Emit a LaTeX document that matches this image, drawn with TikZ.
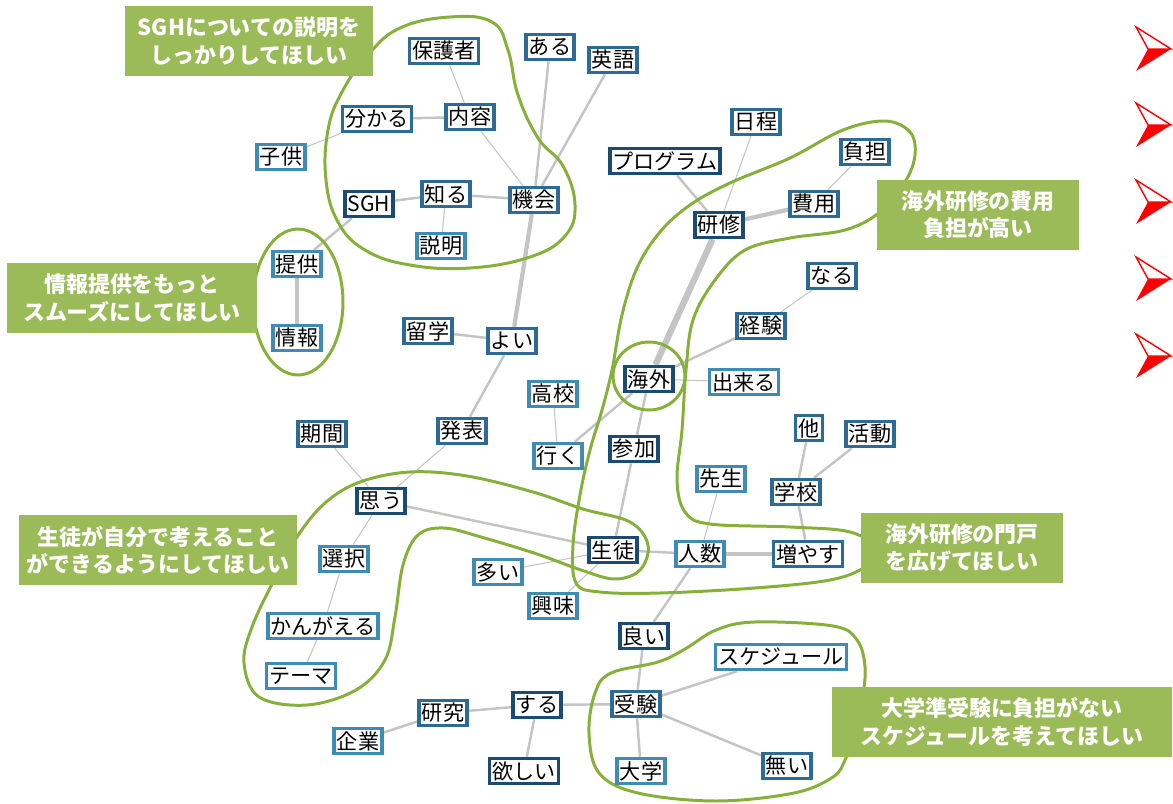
\documentclass[tikz,border=0pt]{standalone}
\usepackage{fontspec}
\newfontfamily\jpfont{Noto Sans CJK JP}
\usetikzlibrary{backgrounds}
\definecolor{darkblue}{HTML}{1B4A72}
\definecolor{midblue}{HTML}{2D6A96}
\definecolor{lightblue}{HTML}{3F8BB5}
\definecolor{linkgray}{HTML}{C4C4C4}
\definecolor{blobgreen}{HTML}{86B03A}
\definecolor{notegreen}{HTML}{9BBB59}
\tikzset{
  word/.style={draw=midblue, fill=white, line width=2pt, inner xsep=1.6pt, inner ysep=1pt,
    minimum height=0.5cm, font=\jpfont\fontsize{12}{13}\selectfont},
  darkword/.style={word, draw=darkblue},
  lightword/.style={word, draw=lightblue},
  link/.style={draw=linkgray, line width=0.6pt},
  linkmid/.style={draw=linkgray, line width=1.4pt},
  linkbold/.style={draw=linkgray, line width=2.4pt},
  linkheavy/.style={draw=linkgray, line width=3.6pt},
  blob/.style={draw=blobgreen, line width=1.7pt},
  note/.style={fill=notegreen, text=white, align=center, inner sep=0pt, minimum height=1.4cm,
    font=\jpfont\bfseries\fontsize{12.5}{15.5}\selectfont}
}
\begin{document}
\begin{tikzpicture}[x=0.02cm, y=-0.02cm]
  \useasboundingbox (0,0) rectangle (1173,804);%

  % Words of the upper left group
  \node[word] (hogosha) at (444,51) {保護者};%
  \node[word] (aru) at (550,47) {ある};%
  \node[word] (eigo) at (613,60) {英語};%
  \node[word] (wakaru) at (377,119) {分かる};%
  \node[word] (naiyou) at (470,117) {内容};%
  \node[lightword] (kodomo) at (281,157) {子供};%
  \node[darkword] (sgh) at (369,204) {SGH};%
  \node[word] (shiru) at (446,194) {知る};%
  \node[word] (kikai) at (534,200) {機会};%
  \node[lightword] (setsumei) at (441,246) {説明};%
  \node[lightword] (teikyou) at (297,264) {提供};%
  \node[lightword] (jouhou) at (297,338) {情報};%
  \node[word] (ryuugaku) at (428,331) {留学};%
  \node[word] (yoi) at (512,341) {よい};%

  % Words round kaigai and kenshu
  \node[word] (nittei) at (756,122) {日程};%
  \node[darkword] (program) at (665,161) {プログラム};%
  \node[darkword] (kenshu) at (719,225) {研修};%
  \node[word] (futan) at (865,152) {負担};%
  \node[word] (hiyou) at (814,204) {費用};%
  \node[word] (naru) at (832,276) {なる};%
  \node[word] (keiken) at (761,326) {経験};%
  \node[darkword] (kaigai) at (649,379) {海外};%
  \node[lightword] (dekiru) at (744,382) {出来る};%
  \node[lightword] (koukou) at (553,394) {高校};%
  \node[lightword] (iku) at (558,456) {行く};%
  \node[word] (happyou) at (462,431) {発表};%
  \node[darkword] (sanka) at (634,449) {参加};%
  \node[word] (hoka) at (809,428) {他};%
  \node[word] (katsudou) at (870,434) {活動};%
  \node[lightword] (sensei) at (721,479) {先生};%
  \node[word] (gakkou) at (796,492) {学校};%
  \node[word] (kikan) at (322,434) {期間};%
  \node[darkword] (omou) at (381,501) {思う};%

  % Words of the lower half
  \node[darkword] (seito) at (613,550) {生徒};%
  \node[lightword] (ninzuu) at (700,554) {人数};%
  \node[word] (fuyasu) at (808,554) {増やす};%
  \node[lightword] (sentaku) at (344,559) {選択};%
  \node[lightword] (ooi) at (498,572) {多い};%
  \node[lightword] (kyoumi) at (553,606) {興味};%
  \node[lightword] (kangaeru) at (323,626) {かんがえる};%
  \node[lightword] (thema) at (301,676) {テーマ};%
  \node[darkword] (ii) at (644,636) {良い};%
  \node[lightword] (schedule) at (781,657) {スケジュール};%
  \node[word] (juken) at (636,704) {受験};%
  \node[darkword] (suru) at (537,705) {する};%
  \node[word] (kenkyuu) at (443,713) {研究};%
  \node[lightword] (kigyou) at (358,741) {企業};%
  \node[darkword] (hoshii) at (524,771) {欲しい};%
  \node[lightword] (daigaku) at (641,771) {大学};%
  \node[word] (nai) at (787,766) {無い};%

  \begin{scope}[on background layer]
    % Drawing links
    \draw[link] (hogosha) -- (naiyou);%
    \draw[linkmid] (wakaru) -- (naiyou);%
    \draw[link] (kodomo) -- (wakaru);%
    \draw[link] (naiyou) -- (kikai);%
    \draw[linkmid] (aru) -- (kikai);%
    \draw[linkmid] (eigo) -- (kikai);%
    \draw[linkmid] (sgh) -- (shiru);%
    \draw[linkmid] (shiru) -- (kikai);%
    \draw[link] (shiru) -- (setsumei);%
    \draw[linkmid] (sgh) -- (teikyou);%
    \draw[linkbold] (teikyou) -- (jouhou);%
    \draw[linkbold] (kikai) -- (yoi);%
    \draw[linkmid] (ryuugaku) -- (yoi);%
    \draw[linkmid] (yoi) -- (happyou);%
    \draw[link] (happyou) -- (omou);%
    \draw[link] (kikan) -- (omou);%
    \draw[link] (omou) -- (sentaku);%
    \draw[link] (sentaku) -- (kangaeru);%
    \draw[link] (kangaeru) -- (thema);%
    \draw[linkmid] (omou) -- (seito);%
    \draw[link] (ooi) -- (seito);%
    \draw[link] (kyoumi) -- (seito);%
    \draw[linkmid] (sanka) -- (seito);%
    \draw[linkmid] (kaigai) -- (sanka);%
    \draw[linkmid] (iku) -- (kaigai);%
    \draw[link] (koukou) -- (iku);%
    \draw[linkheavy] (kaigai) -- (kenshu);%
    \draw[linkbold] (kenshu) -- (hiyou);%
    \draw[linkmid] (kenshu) -- (program);%
    \draw[link] (kenshu) -- (nittei);%
    \draw[link] (hiyou) -- (futan);%
    \draw[linkmid] (kaigai) -- (keiken);%
    \draw[link] (keiken) -- (naru);%
    \draw[link] (kaigai) -- (dekiru);%
    \draw[linkmid] (seito) -- (ninzuu);%
    \draw[linkbold] (ninzuu) -- (fuyasu);%
    \draw[link] (sensei) -- (ninzuu);%
    \draw[linkmid] (hoka) -- (gakkou);%
    \draw[linkmid] (katsudou) -- (gakkou);%
    \draw[linkmid] (gakkou) -- (fuyasu);%
    \draw[linkmid] (ninzuu) -- (ii);%
    \draw[linkmid] (ii) -- (juken);%
    \draw[linkmid] (juken) -- (schedule);%
    \draw[linkmid] (juken) -- (nai);%
    \draw[linkmid] (juken) -- (daigaku);%
    \draw[linkmid] (suru) -- (juken);%
    \draw[linkmid] (kenkyuu) -- (suru);%
    \draw[linkmid] (kigyou) -- (kenkyuu);%
    \draw[linkmid] (suru) -- (hoshii);%

    % Drawing the green outlines
    \draw[blob] plot[smooth cycle, tension=0.7] coordinates {(400,28) (450,17) (492,22) (508,50) (518,95) (538,138) (563,166) (575,205) (565,236) (530,257) (470,268) (410,265) (365,250) (338,222) (326,180) (328,130) (342,92) (368,55)};%
    \draw[blob] (298,302) ellipse [x radius=0.9cm, y radius=1.46cm];%
    \draw[blob] (649,376) ellipse [x radius=0.72cm, y radius=0.68cm];%
    \draw[blob] plot[smooth cycle, tension=0.6] coordinates {(576,583) (573,545) (580,495) (590,450) (602,410) (612,370) (622,315) (637,268) (660,232) (690,205) (730,183) (790,158) (843,130) (885,121) (910,132) (915,155) (905,182) (880,212) (845,230) (790,238) (745,250) (715,280) (693,320) (686,370) (682,430) (677,480) (685,512) (710,524) (790,527) (850,532) (878,550) (865,567) (830,580) (755,588) (660,593) (600,592)};%
    \draw[blob] plot[smooth cycle, tension=0.6] coordinates {(297,537) (325,503) (360,482) (410,472) (467,476) (533,492) (583,509) (630,522) (648,545) (640,570) (615,579) (581,570) (537,554) (481,537) (444,528) (418,535) (403,565) (395,617) (385,660) (356,690) (307,705) (259,697) (244,663) (252,627) (274,580)};%
    \draw[blob] plot[smooth cycle, tension=0.6] coordinates {(611,673) (658,662) (685,649) (716,630) (755,622) (833,626) (857,640) (865,667) (862,700) (852,740) (845,760) (833,777) (794,793) (716,801) (638,793) (599,773) (589,733) (595,693)};%
  \end{scope}

  % Green notes
  \node[note, minimum width=4.96cm] (noteSGH) at (249,41) {SGHについての説明を\\しっかりしてほしい};%
  \node[note, minimum width=5.0cm] (noteInfo) at (132,298) {情報提供をもっと\\スムーズにしてほしい};%
  \node[note, minimum width=5.56cm] (noteSelf) at (158,550) {生徒が自分で考えること\\ができるようにしてほしい};%
  \node[note, minimum width=4.06cm] (noteCost) at (978,215) {海外研修の費用\\負担が高い};%
  \node[note, minimum width=4.04cm] (noteDoor) at (962,548) {海外研修の門戸\\を広げてほしい};%
  \node[note, minimum width=6.82cm] (noteExam) at (1002,722) {大学準受験に負担がない\\スケジュールを考えてほしい};%

  % Red bullets on the right
  \foreach \ay in {49,125,202,279,356} {
    \fill[red] (1171,\ay) -- (1148,\ay) -- (1136,\ay+22) -- cycle;%
    \draw[red, fill=white, line width=0.8pt] (1171,\ay) -- (1136,\ay-22) -- (1148,\ay) -- cycle;%
  }
\end{tikzpicture}
\end{document}
